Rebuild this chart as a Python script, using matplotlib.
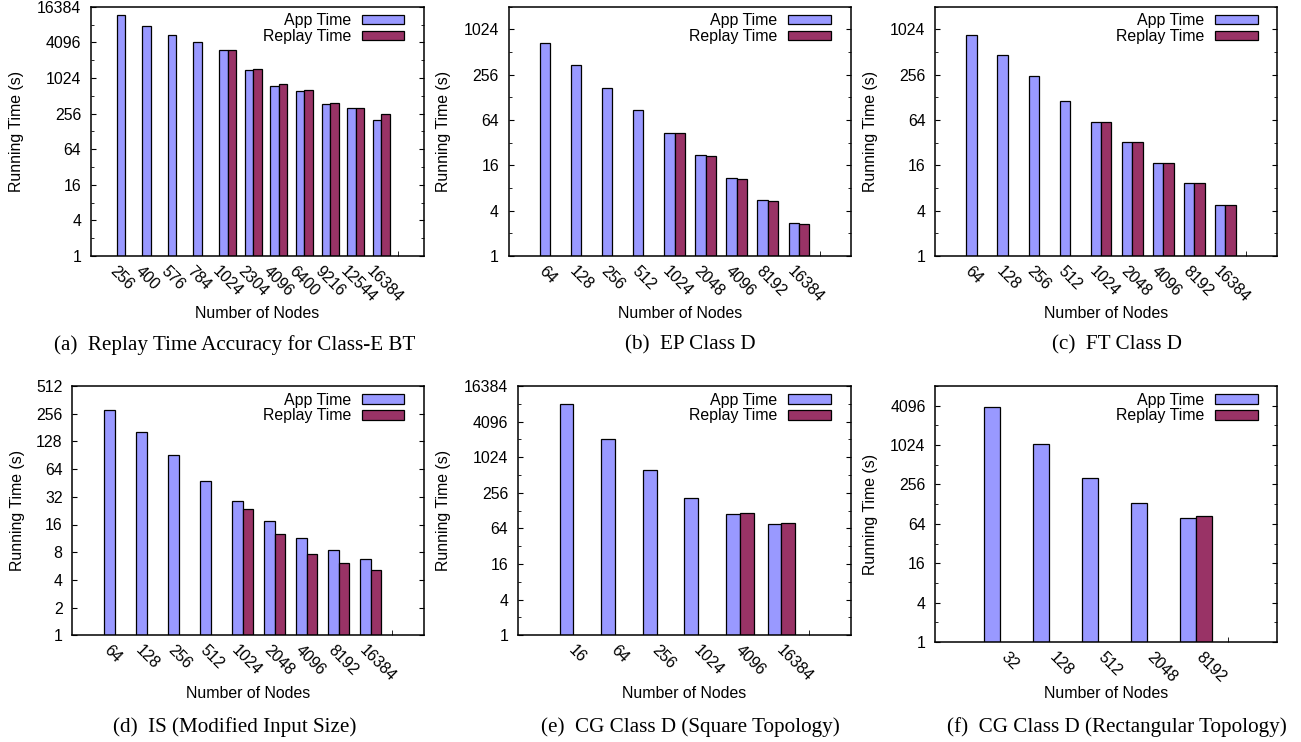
import numpy as np
import matplotlib
matplotlib.use('Agg')
import matplotlib.pyplot as plt
from matplotlib.ticker import FixedLocator, NullFormatter

plt.rcParams['font.family'] = ['Liberation Sans', 'DejaVu Sans']
plt.rcParams['font.size'] = 11.4

nan = np.nan
# ------------------------ data -----------------------------------------------
a_nodes = ['256', '400', '576', '784', '1024', '2304', '4096', '6400', '9216', '12544', '16384']
a_app = [11840, 7620, 5510, 4090, 3070, 1375, 738, 615, 366, 314, 201]
a_replay = [nan, nan, nan, nan, 3090, 1448, 808, 647, 381, 321, 251]

b_nodes = ['64', '128', '256', '512', '1024', '2048', '4096', '8192', '16384']
b_app = [682, 341, 172, 86, 43.5, 21.8, 10.8, 5.49, 2.72]
b_replay = [nan, nan, nan, nan, 43.5, 21.3, 10.5, 5.38, 2.66]

c_nodes = ['64', '128', '256', '512', '1024', '2048', '4096', '8192', '16384']
c_app = [872, 468, 246, 113.5, 59.7, 32.7, 17.4, 9.42, 4.81]
c_replay = [nan, nan, nan, nan, 59.7, 33.0, 17.2, 9.3, 4.71]

d_nodes = ['64', '128', '256', '512', '1024', '2048', '4096', '8192', '16384']
d_app = [281, 162, 91, 47.9, 28.6, 17.5, 11.5, 8.51, 6.8]
d_replay = [nan, nan, nan, nan, 23.8, 12.7, 7.65, 6.15, 5.12]

e_nodes = ['16', '64', '256', '1024', '4096', '16384']
e_app = [8020, 2080, 615, 212, 111, 76]
e_replay = [nan, nan, nan, nan, 117, 79]

f_nodes = ['32', '128', '512', '2048', '8192']
f_app = [3960, 1075, 318, 135, 79.5]
f_replay = [nan, nan, nan, nan, 85.3]

captions = ['(a)  Replay Time Accuracy for Class-E BT', '(b)  EP Class D', '(c)  FT Class D',
            '(d)  IS (Modified Input Size)', '(e)  CG Class D (Square Topology)',
            '(f)  CG Class D (Rectangular Topology)']
# ------------------------------------------------------------------------------
app_col = '#9999ff'
rep_col = '#993366'
W, H = 1301, 742

fig = plt.figure(figsize=(W/100, H/100), dpi=100)

# (left, right, top, bottom) in pixels, y tick base, y top, ylabel x, xlabel y
panels = [
    (a_nodes, a_app, a_replay, (91, 424, 6.7, 256), 4, 16384, 17, 314),
    (b_nodes, b_app, b_replay, (508.7, 850.7, 6.7, 256), 4, 2048, 443.7, 314),
    (c_nodes, c_app, c_replay, (935.3, 1277.3, 6.7, 256), 4, 2048, 870.3, 314),
    (d_nodes, d_app, d_replay, (72.3, 424, 386, 635.3), 2, 512, 17, 693),
    (e_nodes, e_app, e_replay, (518, 850.7, 386, 635.3), 4, 16384, 443.7, 693),
    (f_nodes, f_app, f_replay, (935.3, 1277.3, 386, 642), 4, 8192, 870.3, 693),
]

w = 1.0/3

for nodes, app, rep, (l, r, t, b), base, top, ylx, xly in panels:
    ax = fig.add_axes([l/W, 1 - b/H, (r - l)/W, (b - t)/H])
    n = len(nodes)
    x = np.arange(n)
    app = np.array(app, dtype=float)
    rep = np.array(rep, dtype=float)
    ax.bar(x - w/2, app, width=w, color=app_col, edgecolor='black', linewidth=0.9,
           label='App Time', zorder=2)
    m = ~np.isnan(rep)
    ax.bar(x[m] + w/2, rep[m], width=w, color=rep_col, edgecolor='black', linewidth=0.9,
           label='Replay Time', zorder=2)
    ax.set_yscale('log')
    ax.set_ylim(1, top)
    ax.set_xlim(-4/3, n + 2/3)

    majors = [base**k for k in range(0, 20) if base**k <= top]
    ax.yaxis.set_major_locator(FixedLocator(majors))
    ax.set_yticklabels([str(v) for v in majors])
    if base == 4:
        minors = [2*4**k for k in range(0, 10) if 2*4**k <= top]
        ax.yaxis.set_minor_locator(FixedLocator(minors))
    else:
        ax.yaxis.set_minor_locator(FixedLocator([]))
    ax.yaxis.set_minor_formatter(NullFormatter())

    # gnuplot puts the label start about 33 px left of the tic at i + 2/3
    unit_px = (r - l)/(n + 2)
    ax.set_xticks(x + 2/3 - 33/unit_px)
    ax.set_xticklabels(nodes, rotation=-45, ha='left', va='baseline', rotation_mode='anchor')
    ax.xaxis.set_minor_locator(FixedLocator([n - 1 + 2/3]))

    ax.tick_params(axis='x', which='major', length=0, pad=11.2)
    ax.tick_params(axis='x', which='minor', length=3.5, direction='in', bottom=True, top=False)
    ax.tick_params(axis='y', which='major', direction='in', length=3.5, left=True, right=True, pad=7)
    ax.tick_params(axis='y', which='minor', direction='in', length=2.0, left=True, right=True)
    for s in ax.spines.values():
        s.set_linewidth(1.1)

    ax.set_xlabel('Number of Nodes', va='center')
    ax.xaxis.set_label_coords(0.5, (b - xly)/(b - t))
    ax.set_ylabel('Running Time (s)', va='center')
    ax.yaxis.set_label_coords((ylx - l)/(r - l), 0.5)

    ax.legend(loc='upper right', bbox_to_anchor=(1 - 19.7/(r - l), 1 - 6.5/(b - t)),
              frameon=False, markerfirst=False, borderpad=0, borderaxespad=0,
              handlelength=2.7, handleheight=0.57, handletextpad=0.68, labelspacing=0.05)

cap_x = [235, 690, 1117, 235, 690, 1117]
cap_y = [345, 345, 345, 726.7, 726.7, 726.7]
for cx, cy, txt in zip(cap_x, cap_y, captions):
    fig.text(cx/W, 1 - cy/H, txt, ha='center', va='center',
             family=['Liberation Serif', 'DejaVu Serif'], fontsize=15.2)

plt.savefig('out.png', dpi=100)
